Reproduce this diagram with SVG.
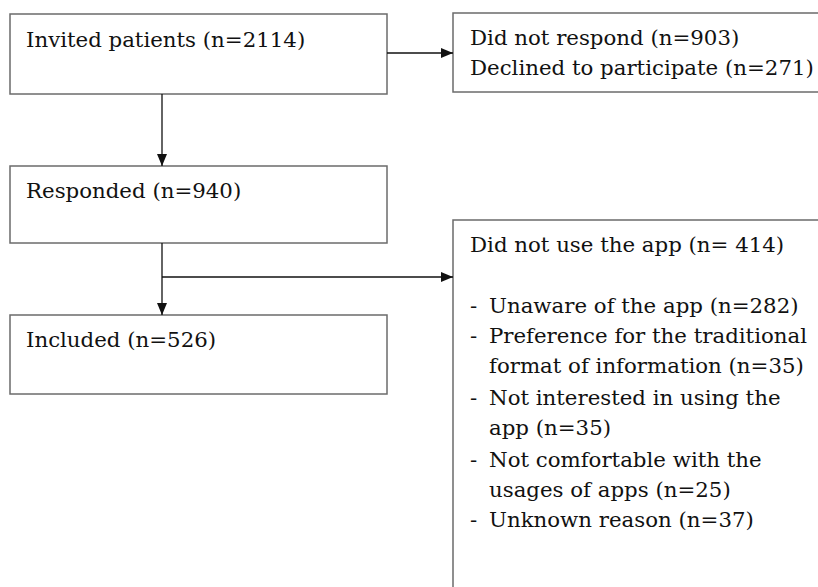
<svg xmlns="http://www.w3.org/2000/svg" width="818" height="587" viewBox="0 0 818 587">
<style>
.box{fill:#fff;stroke:#6b6b6b;stroke-width:1.5}
.t{font-family:"DejaVu Serif","Liberation Serif",serif;font-size:21.3px;fill:#111}
.c{stroke:#111;stroke-width:1.3;fill:none}
</style>
<defs>
<marker id="ah" viewBox="0 0 12 12" refX="12" refY="6" markerWidth="12" markerHeight="12" markerUnits="userSpaceOnUse" orient="auto">
<path d="M0,1 L12,6 L0,11 Z" fill="#111"/>
</marker>
</defs>
<rect width="818" height="587" fill="#fff"/>
<g id="invited"><rect class="box" x="10" y="14" width="377" height="80"/><text class="t" x="26" y="47">Invited patients (n=2114)</text></g>
<g id="excluded1"><rect class="box" x="453" y="13" width="370" height="79"/><text class="t" x="470" y="45">Did not respond (n=903)</text><text class="t" x="470" y="75">Declined to participate (n=271)</text></g>
<g id="responded"><rect class="box" x="10" y="166" width="377" height="77"/><text class="t" x="26" y="198">Responded (n=940)</text></g>
<g id="included"><rect class="box" x="10" y="315" width="377" height="79"/><text class="t" x="26" y="347">Included (n=526)</text></g>
<g id="notused"><rect class="box" x="453" y="220" width="370" height="380"/>
<text class="t" x="470" y="252">Did not use the app (n= 414)</text>
<text class="t" x="470" y="313">-</text><text class="t" x="489" y="313">Unaware of the app (n=282)</text>
<text class="t" x="470" y="343">-</text><text class="t" x="489" y="343">Preference for the traditional</text>
<text class="t" x="489" y="373">format of information (n=35)</text>
<text class="t" x="470" y="405">-</text><text class="t" x="489" y="405">Not interested in using the</text>
<text class="t" x="489" y="435">app (n=35)</text>
<text class="t" x="470" y="467">-</text><text class="t" x="489" y="467">Not comfortable with the</text>
<text class="t" x="489" y="497">usages of apps (n=25)</text>
<text class="t" x="470" y="527">-</text><text class="t" x="489" y="527">Unknown reason (n=37)</text>
</g>
<g id="connectors">
<line class="c" x1="387" y1="53" x2="453" y2="53" marker-end="url(#ah)"/>
<line class="c" x1="162" y1="94" x2="162" y2="166" marker-end="url(#ah)"/>
<line class="c" x1="162" y1="243" x2="162" y2="315" marker-end="url(#ah)"/>
<line class="c" x1="162" y1="277" x2="453" y2="277" marker-end="url(#ah)"/>
</g>
</svg>
